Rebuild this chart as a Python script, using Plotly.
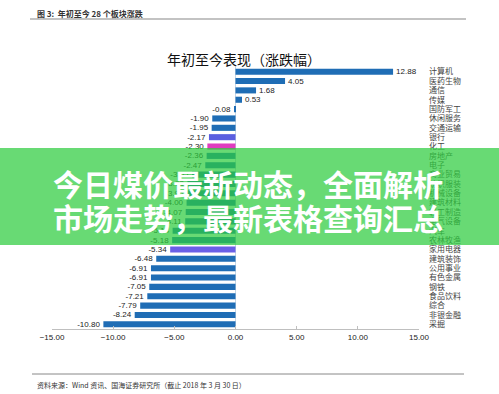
import plotly.graph_objects as go

sectors = ["计算机", "医药生物", "通信", "传媒", "国防军工", "休闲服务", "交通运输", "银行", "化工",
           "房地产", "电子", "商业贸易", "纺织服装", "机械设备", "建筑材料", "轻工制造", "电气设备",
           "汽车", "农林牧渔", "家用电器", "建筑装饰", "公用事业", "有色金属", "钢铁", "食品饮料",
           "综合", "非银金融", "采掘"]
values = [12.88, 4.05, 1.68, 0.53, -0.08, -1.90, -1.95, -2.17, -2.30,
          -2.36, -2.47, -3.55, -3.93, -3.96, -4.00, -4.07, -4.11,
          -5.14, -5.18, -5.34, -6.48, -6.91, -6.91, -7.05, -7.21,
          -7.79, -8.24, -10.80]
highlight = {"银行": "#5b5fe0", "化工": "#e03cc0", "家用电器": "#6a60e6"}
x_ticks = [-15, -10, -5, 0, 5, 10, 15]

W, H = 499, 394
L, R, T, B = 52, 80, 67, 65
pw, ph = W - L - R, H - T - B

def px(x):
    return (x - L) / pw

def py(y):
    return (H - B - y) / ph

colors = [highlight.get(s, "#1f6db5") for s in sectors]
labels = ["%.2f" % v for v in values]

fig = go.Figure(go.Bar(
    x=values, y=sectors, orientation="h", marker=dict(color=colors, line=dict(width=0)),
    width=0.65, text=labels, textposition="outside", cliponaxis=False, constraintext="none",
    textfont=dict(family="Liberation Sans, Arial", size=8, color="#222"),
))

fig.update_layout(
    width=W, height=H, margin=dict(l=L, r=R, t=T, b=B, autoexpand=False),
    paper_bgcolor="white", plot_bgcolor="white", showlegend=False,
    xaxis=dict(range=[-15, 15], tickvals=x_ticks, tickformat=".2f", showgrid=False, automargin=False,
               zeroline=True, zerolinecolor="#c5d6e6", zerolinewidth=1,
               showline=True, linecolor="#bfbfbf", linewidth=1, ticks="inside", ticklen=3,
               tickcolor="#bfbfbf", tickfont=dict(family="Liberation Sans, Arial", size=8, color="#222")),
    yaxis=dict(categoryorder="array", categoryarray=sectors, autorange="reversed",
               tickmode="array", tickvals=sectors, automargin=False,
               side="right", showgrid=False, zeroline=False, showline=False, ticks="",
               ticklabelstandoff=9,
               tickfont=dict(family="Noto Sans CJK SC", size=8, color="#444")),
    font=dict(family="Noto Sans CJK SC"),
)

shapes = [
    dict(type="line", xref="paper", yref="paper", x0=px(30), x1=px(466), y0=py(19), y1=py(19),
         line=dict(color="#888", width=1.2)),
    dict(type="line", xref="paper", yref="paper", x0=px(32), x1=px(464), y0=py(374), y1=py(374),
         line=dict(color="#888", width=1)),
    dict(type="rect", xref="paper", yref="paper", x0=px(0), x1=px(W), y0=py(245), y1=py(148),
         fillcolor="rgba(46,204,62,0.72)", line=dict(width=0), layer="above"),
]
fig.update_layout(shapes=shapes)

ann = [
    dict(text="<b>图 3:  年初至今 28 个板块涨跌</b>", x=px(35), y=py(13), xanchor="left", yanchor="middle",
         font=dict(size=8, color="#333", family="Noto Sans CJK SC")),
    dict(text="年初至今表现（涨跌幅）", x=px(244), y=py(59), xanchor="center", yanchor="middle",
         font=dict(size=14, color="#111", family="Noto Sans CJK SC")),
    dict(text="资料来源：Wind 资讯、国海证券研究所（截止 2018 年 3 月 30 日）", x=px(35), y=py(385),
         xanchor="left", yanchor="middle", font=dict(size=7, color="#333", family="Noto Sans CJK SC")),
    dict(text="<b>今日煤价最新动态，全面解析</b>", x=px(248), y=py(183), xanchor="center", yanchor="middle",
         font=dict(size=30, color="white", family="Noto Sans CJK SC")),
    dict(text="<b>市场走势，最新表格查询汇总</b>", x=px(248), y=py(217), xanchor="center", yanchor="middle",
         font=dict(size=30, color="white", family="Noto Sans CJK SC")),
]
for a in ann:
    a.update(xref="paper", yref="paper", showarrow=False)
fig.update_layout(annotations=ann)

fig.write_html("out.html", config={"displayModeBar": False},
               post_script="document.body.style.margin='0';")
